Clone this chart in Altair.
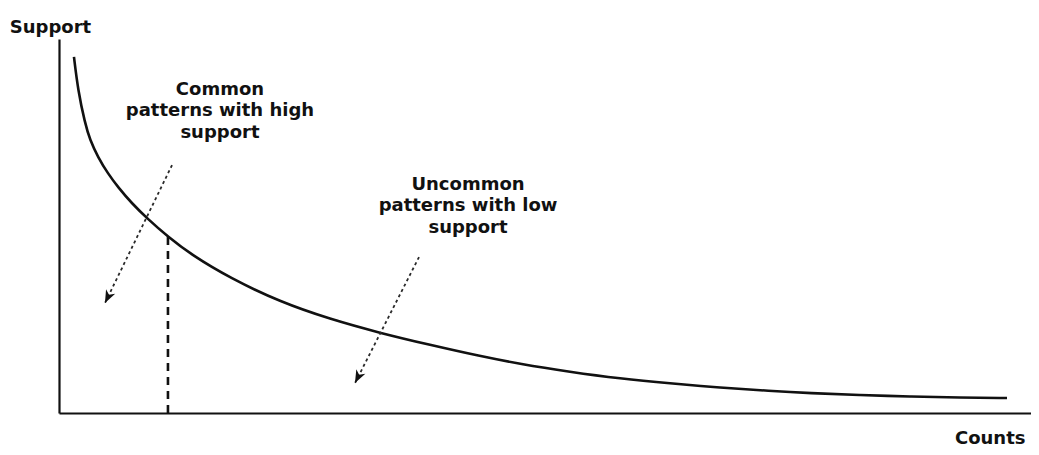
import math
import altair as alt
import pandas as pd

# ---- data (arbitrary units, axes 0..100) ----
curve_counts = [1.54, 1.95, 2.67, 3.19, 4.01, 5.04, 6.07, 7.51, 9.05, 11.21,
                13.68, 17.59, 22.74, 27.88, 33.02, 38.17, 43.31, 47.43, 52.57,
                57.72, 62.86, 68.00, 73.15, 77.26, 82.41, 87.55, 92.70, 97.53]
curve_support = [95.2, 86.4, 77.5, 73.0, 68.4, 64.0, 60.4, 56.0, 52.1, 47.1,
                 42.2, 36.1, 29.7, 25.1, 21.4, 18.2, 15.2, 13.1, 11.0,
                 9.2, 7.9, 6.8, 5.9, 5.3, 4.8, 4.4, 4.1, 4.0]

cutoff_count = [11.21]
cutoff_support = [47.1]

arrow_start_count = [11.63, 37.04]
arrow_start_support = [66.3, 41.7]
arrow_end_count = [4.73, 30.45]
arrow_end_support = [29.4, 8.0]

label_text = ["Common\npatterns with high\nsupport",
              "Uncommon\npatterns with low\nsupport"]
label_count = [16.56, 42.08]
label_support = [86.4, 61.0]

# ---- layout ----
W, H = 972, 374
FONT = "DejaVu Sans"
INK = "#111111"

xs = alt.Scale(domain=[0, 100], nice=False, zero=False)
ys = alt.Scale(domain=[0, 100], nice=False, zero=False)

curve_df = pd.DataFrame({"Counts": curve_counts, "Support": curve_support})
cut_df = pd.DataFrame({"Counts": cutoff_count, "Support": cutoff_support, "base": [0.0]})

arrow_df = pd.DataFrame({
    "x": arrow_start_count, "y": arrow_start_support,
    "x2": arrow_end_count, "y2": arrow_end_support,
})
px_x = W / 100.0
px_y = H / 100.0
arrow_df["angle"] = [
    (math.degrees(math.atan2((b - a) * px_x, (d - c) * px_y))) % 360
    for a, b, c, d in zip(arrow_df["x"], arrow_df["x2"], arrow_df["y"], arrow_df["y2"])
]
label_df = pd.DataFrame({"t": label_text, "x": label_count, "y": label_support})

x_axis = alt.Axis(title="Counts", ticks=False, labels=False, grid=False,
                  domainColor=INK, domainWidth=2.2,
                  titleFont=FONT, titleFontSize=18, titleFontWeight="bold",
                  titleColor=INK, titleAngle=0, titleAlign="right",
                  titleBaseline="middle", titleX=966, titleY=25)
y_axis = alt.Axis(title="Support", ticks=False, labels=False, grid=False,
                  domainColor=INK, domainWidth=2.2,
                  titleFont=FONT, titleFontSize=18, titleFontWeight="bold",
                  titleColor=INK, titleAngle=0, titleAlign="center",
                  titleBaseline="middle", titleX=-9, titleY=-12)

curve = alt.Chart(curve_df).mark_line(
    color=INK, strokeWidth=2.6, interpolate="basis"
).encode(
    x=alt.X("Counts:Q", scale=xs, axis=x_axis),
    y=alt.Y("Support:Q", scale=ys, axis=y_axis),
)

cut = alt.Chart(cut_df).mark_rule(
    color=INK, strokeWidth=2.6, strokeDash=[8, 6]
).encode(
    x=alt.X("Counts:Q", scale=xs, axis=x_axis),
    y=alt.Y("base:Q", scale=ys, axis=y_axis),
    y2="Support:Q",
)

arrow_lines = alt.Chart(arrow_df).mark_rule(
    color="#2a2a2a", strokeWidth=1.8, strokeDash=[3, 3]
).encode(
    x=alt.X("x:Q", scale=xs, axis=x_axis), y=alt.Y("y:Q", scale=ys, axis=y_axis),
    x2="x2:Q", y2="y2:Q",
)

arrow_heads = alt.Chart(arrow_df).mark_point(
    shape="M0,0L0.55,1.4L0,1.0L-0.55,1.4Z", filled=True, color=INK,
    opacity=1, size=340,
).encode(
    x=alt.X("x2:Q", scale=xs, axis=x_axis), y=alt.Y("y2:Q", scale=ys, axis=y_axis),
    angle=alt.Angle("angle:Q", scale=None),
)

labels = alt.Chart(label_df).mark_text(
    font=FONT, fontSize=18, fontWeight="bold", color=INK,
    align="center", baseline="middle", lineHeight=21.5, lineBreak="\n",
).encode(
    x=alt.X("x:Q", scale=xs, axis=x_axis), y=alt.Y("y:Q", scale=ys, axis=y_axis),
    text="t:N",
)

chart = alt.layer(curve, cut, arrow_lines, arrow_heads, labels).properties(
    width=W, height=H,
    background="white",
    autosize=alt.AutoSizeParams(type="none"),
    padding={"left": 51, "top": 31, "right": 0, "bottom": 34},
).configure_view(stroke="transparent", strokeWidth=0).configure_axis(grid=False)

chart.save("out.html", embed_options={"renderer": "svg", "actions": False})
